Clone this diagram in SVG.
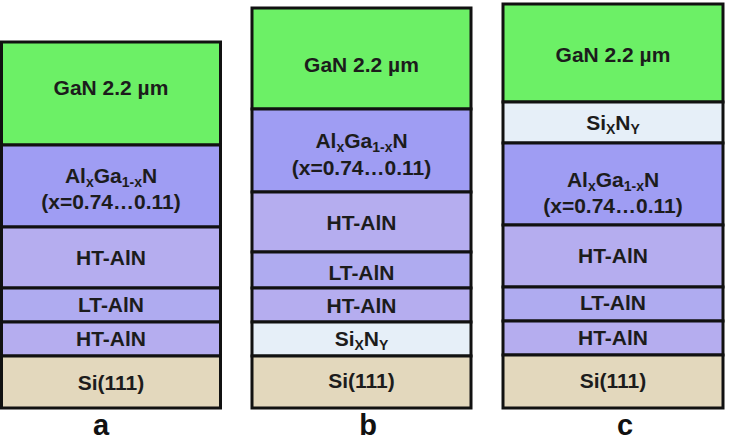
<svg xmlns="http://www.w3.org/2000/svg" width="731" height="442" viewBox="0 0 731 442">
<style>
.l{stroke:#111;stroke-width:3}
.gan{fill:#6cf066}
.algan{fill:#9f9df3}
.ht{fill:#b5adef}
.lt{fill:#afabf0}
.si{fill:#e3d8bd}
.sin{fill:#e6eff8}
text{font-family:"Liberation Sans",Arial,sans-serif;font-weight:bold;font-size:21px;fill:#1c1c1c;text-anchor:middle}
.cap{font-size:29px;fill:#111}
.sub{font-size:14px}
</style>
<rect width="731" height="442" fill="#fff"/>
<g id="stack-a">
<g id="a-gan"><rect class="l gan" x="1.5" y="42" width="219" height="103"/><text x="111" y="95">GaN 2.2 µm</text></g>
<g id="a-algan"><rect class="l algan" x="1.5" y="145" width="219" height="82"/><text x="111" y="183">Al<tspan class="sub" dy="4">x</tspan><tspan dy="-4">Ga</tspan><tspan class="sub" dy="4">1-x</tspan><tspan dy="-4">N</tspan></text><text x="111" y="209">(x=0.74…0.11)</text></g>
<g id="a-ht1"><rect class="l ht" x="1.5" y="227" width="219" height="61"/><text x="111" y="265">HT-AlN</text></g>
<g id="a-lt"><rect class="l lt" x="1.5" y="288" width="219" height="34"/><text x="111" y="312">LT-AlN</text></g>
<g id="a-ht2"><rect class="l ht" x="1.5" y="322" width="219" height="34"/><text x="111" y="346">HT-AlN</text></g>
<g id="a-si"><rect class="l si" x="1.5" y="356" width="219" height="52"/><text x="111" y="390">Si(111)</text></g>
</g>
<g id="stack-b">
<g id="b-gan"><rect class="l gan" x="252" y="8" width="219" height="101"/><text x="361.5" y="72">GaN 2.2 µm</text></g>
<g id="b-algan"><rect class="l algan" x="252" y="109" width="219" height="83"/><text x="361.5" y="148">Al<tspan class="sub" dy="4">x</tspan><tspan dy="-4">Ga</tspan><tspan class="sub" dy="4">1-x</tspan><tspan dy="-4">N</tspan></text><text x="361.5" y="175">(x=0.74…0.11)</text></g>
<g id="b-ht1"><rect class="l ht" x="252" y="192" width="219" height="60"/><text x="361.5" y="230">HT-AlN</text></g>
<g id="b-lt"><rect class="l lt" x="252" y="252" width="219" height="36"/><text x="361.5" y="280">LT-AlN</text></g>
<g id="b-ht2"><rect class="l ht" x="252" y="288" width="219" height="34"/><text x="361.5" y="313">HT-AlN</text></g>
<g id="b-sin"><rect class="l sin" x="252" y="322" width="219" height="34"/><text x="361.5" y="346">Si<tspan class="sub" dy="4">X</tspan><tspan dy="-4">N</tspan><tspan class="sub" dy="4">Y</tspan></text></g>
<g id="b-si"><rect class="l si" x="252" y="356" width="219" height="52"/><text x="361.5" y="388">Si(111)</text></g>
</g>
<g id="stack-c">
<g id="c-gan"><rect class="l gan" x="503" y="4" width="220" height="98"/><text x="613" y="62">GaN 2.2 µm</text></g>
<g id="c-sin"><rect class="l sin" x="503" y="102" width="220" height="41"/><text x="613" y="130">Si<tspan class="sub" dy="4">X</tspan><tspan dy="-4">N</tspan><tspan class="sub" dy="4">Y</tspan></text></g>
<g id="c-algan"><rect class="l algan" x="503" y="143" width="220" height="82"/><text x="613" y="187">Al<tspan class="sub" dy="4">x</tspan><tspan dy="-4">Ga</tspan><tspan class="sub" dy="4">1-x</tspan><tspan dy="-4">N</tspan></text><text x="613" y="213">(x=0.74…0.11)</text></g>
<g id="c-ht1"><rect class="l ht" x="503" y="225" width="220" height="62"/><text x="613" y="263">HT-AlN</text></g>
<g id="c-lt"><rect class="l lt" x="503" y="287" width="220" height="34"/><text x="613" y="310">LT-AlN</text></g>
<g id="c-ht2"><rect class="l ht" x="503" y="321" width="220" height="34"/><text x="613" y="345">HT-AlN</text></g>
<g id="c-si"><rect class="l si" x="503" y="355" width="220" height="53"/><text x="613" y="388">Si(111)</text></g>
</g>
<g id="labels">
<text class="cap" x="101" y="435">a</text>
<text class="cap" x="368" y="435">b</text>
<text class="cap" x="625" y="435">c</text>
</g>
</svg>
